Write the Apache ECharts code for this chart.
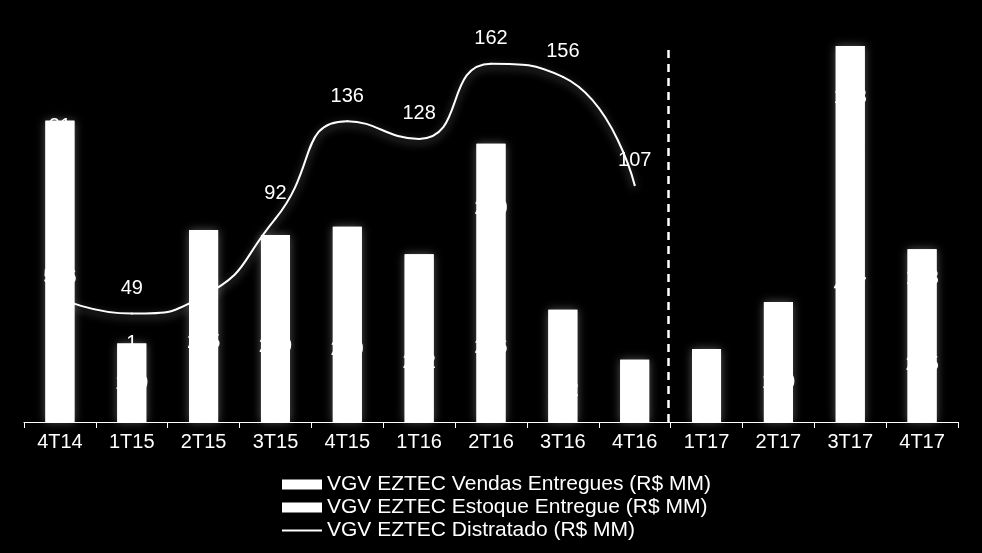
<!DOCTYPE html>
<html>
<head>
<meta charset="utf-8">
<script src="https://cdn.jsdelivr.net/npm/echarts@6/dist/echarts.min.js"></script>
<style>
html,body{margin:0;padding:0;background:#000;}
#chart{width:982px;height:553px;}
</style>
</head>
<body>
<div id="chart"></div>
<script>
const categories = ['4T14','1T15','2T15','3T15','4T15','1T16','2T16','3T16','4T16','1T17','2T17','3T17','4T17'];
const vendasEntregues = [516, 139, 285, 269, 259, 212, 266, 112, 60, 70, 140, 487, 205];
const estoqueEntregue = [21, 1, 57, 64, 89, 87, 230, 88, 51, 60, 74, 183, 103];
const distratado = [56, 49, 57, 92, 136, 128, 162, 156, 107, null, null, null, null];
const separatorPosition = 8.97; // between 4T16 and 1T17 (category index scale)

const names = ['VGV EZTEC Vendas Entregues (R$ MM)', 'VGV EZTEC Estoque Entregue (R$ MM)', 'VGV EZTEC Distratado (R$ MM)'];
const font = 'Liberation Sans, Arial, sans-serif';
const totals = vendasEntregues.map((v, i) => v + estoqueEntregue[i]);

const chart = echarts.init(document.getElementById('chart'));
const barLabel = {show: true, position: 'inside', color: '#fff', fontSize: 20, fontFamily: font,
  textBorderWidth: 0, textShadowBlur: 0, textShadowColor: 'transparent'};

chart.setOption({
  backgroundColor: '#000',
  animation: false,
  grid: {left: 24, right: 24, top: 46, bottom: 131},
  legend: {
    orient: 'vertical', left: 276, top: 469, itemGap: 2, itemWidth: 40, itemHeight: 10,
    textStyle: {color: '#fff', fontSize: 21, fontFamily: font},
    data: [
      {name: names[0], icon: 'rect'},
      {name: names[1], icon: 'rect'},
      {name: names[2], itemStyle: {opacity: 0}}
    ]
  },
  xAxis: [{
    type: 'category', data: categories, boundaryGap: true,
    axisLine: {lineStyle: {color: '#fff', width: 1}},
    axisTick: {show: true, alignWithLabel: false, length: 6, lineStyle: {color: '#fff'}},
    axisLabel: {color: '#fff', fontSize: 20, fontFamily: font, margin: 10}
  }, {
    type: 'value', min: 0, max: 13, show: false
  }],
  yAxis: [
    {type: 'value', min: 0, max: 170, show: false, splitLine: {show: false}},
    {type: 'value', min: 0, max: 670, show: false, splitLine: {show: false}}
  ],
  series: [
    {
      name: names[2], type: 'line', data: distratado, z: 1,
      xAxisIndex: 0, yAxisIndex: 0,
      smooth: 0.55, symbol: 'circle', symbolSize: 2, showSymbol: true,
      lineStyle: {color: '#fff', width: 2, shadowBlur: 8, shadowColor: 'rgba(255,255,255,0.45)', shadowOffsetY: 3},
      itemStyle: {color: '#fff'},
      label: {show: true, position: 'top', distance: 14, color: '#fff', fontSize: 20, fontFamily: font}
    },
    {
      name: 'total', type: 'bar', data: totals, z: 2,
      xAxisIndex: 0, yAxisIndex: 1, barWidth: 29, barGap: '-100%',
      itemStyle: {color: '#fff', shadowBlur: 10, shadowColor: 'rgba(255,255,255,0.35)'},
      label: {show: false}, silent: true
    },
    {
      name: names[0], type: 'bar', stack: 'vgv', data: vendasEntregues, z: 3,
      xAxisIndex: 0, yAxisIndex: 1, barWidth: 29, barGap: '-100%',
      itemStyle: {color: '#fff'},
      label: barLabel
    },
    {
      name: names[1], type: 'bar', stack: 'vgv', data: estoqueEntregue, z: 3,
      xAxisIndex: 0, yAxisIndex: 1, barWidth: 29, barGap: '-100%',
      itemStyle: {color: '#fff'},
      label: barLabel
    },
    {
      name: 'separator', type: 'scatter', data: [], xAxisIndex: 1, yAxisIndex: 0,
      markLine: {
        silent: true, symbol: ['none', 'none'], label: {show: false},
        lineStyle: {color: '#fff', type: [8, 6], width: 2.5},
        data: [{xAxis: separatorPosition}]
      }
    }
  ]
});
</script>
</body>
</html>
